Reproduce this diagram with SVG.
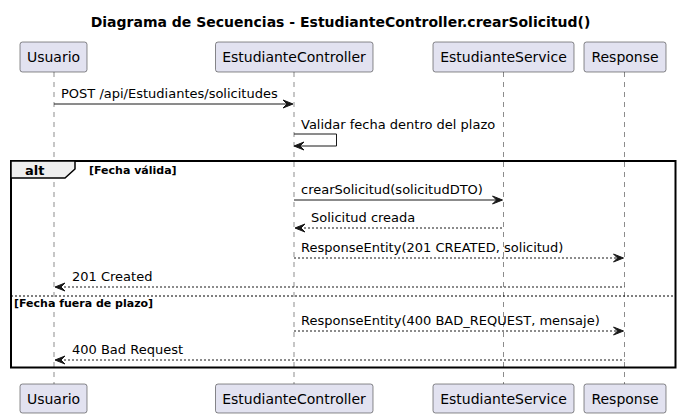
<svg xmlns="http://www.w3.org/2000/svg" width="681" height="419" viewBox="0 0 681 419">
<defs>
<style>
text{font-family:"DejaVu Sans",sans-serif;fill:#000000}
.title{font-size:14px;font-weight:bold}
.pbox{fill:#E2E2F0;stroke:#181818;stroke-width:0.5}
.ptext{font-size:14px}
.life{stroke:#181818;stroke-width:0.5;stroke-dasharray:5,5;fill:none}
.msg{stroke:#181818;stroke-width:1;fill:none}
.dot{stroke-dasharray:2,2}
.mtext{font-size:13px}
.frame{fill:none;stroke:#000000;stroke-width:2}
.tab{fill:#EEEEEE;stroke:#000000;stroke-width:1.5}
.alt{font-size:13px;font-weight:bold}
.guard{font-size:11px;font-weight:bold}
.sep{stroke:#000000;stroke-width:1;stroke-dasharray:2,2}
.head{fill:#181818;stroke:#181818;stroke-width:1}
</style>
</defs>
<text class="title" x="340.5" y="27" text-anchor="middle">Diagrama de Secuencias - EstudianteController.crearSolicitud()</text>

<g id="lifelines">
<line class="life" x1="54" y1="72" x2="54" y2="384"/>
<line class="life" x1="294" y1="72" x2="294" y2="384"/>
<line class="life" x1="503.5" y1="72" x2="503.5" y2="384"/>
<line class="life" x1="624.5" y1="72" x2="624.5" y2="384"/>
</g>

<g id="alt-frame">
<rect class="frame" x="11" y="161" width="664.5" height="206.5"/>
<path class="tab" d="M11,161 L75,161 L75,169 L65,178 L11,178 Z"/>
<text class="alt" x="25" y="175">alt</text>
<text class="guard" x="89" y="174">[Fecha válida]</text>
<line class="sep" x1="11" y1="296" x2="675.5" y2="296"/>
<text class="guard" x="14" y="307">[Fecha fuera de plazo]</text>
</g>

<g id="p-usuario">
<rect class="pbox" x="20" y="42" width="67" height="30" rx="2.5"/>
<text class="ptext" x="53.5" y="62" text-anchor="middle">Usuario</text>
<rect class="pbox" x="20" y="384" width="67" height="29" rx="2.5"/>
<text class="ptext" x="53.5" y="404" text-anchor="middle">Usuario</text>
</g>
<g id="p-controller">
<rect class="pbox" x="215.5" y="42" width="157.5" height="30" rx="2.5"/>
<text class="ptext" x="294" y="62" text-anchor="middle">EstudianteController</text>
<rect class="pbox" x="215.5" y="384" width="157.5" height="29" rx="2.5"/>
<text class="ptext" x="294" y="404" text-anchor="middle">EstudianteController</text>
</g>
<g id="p-service">
<rect class="pbox" x="433" y="42" width="141" height="30" rx="2.5"/>
<text class="ptext" x="503.5" y="62" text-anchor="middle">EstudianteService</text>
<rect class="pbox" x="433" y="384" width="141" height="29" rx="2.5"/>
<text class="ptext" x="503.5" y="404" text-anchor="middle">EstudianteService</text>
</g>
<g id="p-response">
<rect class="pbox" x="584" y="42" width="82" height="30" rx="2.5"/>
<text class="ptext" x="625" y="62" text-anchor="middle">Response</text>
<rect class="pbox" x="584" y="384" width="82" height="29" rx="2.5"/>
<text class="ptext" x="625" y="404" text-anchor="middle">Response</text>
</g>

<g id="connectors">
<line class="msg" x1="54" y1="104" x2="292" y2="104"/>
<polygon class="head" points="283,100 293,104 283,108 287,104"/>
<text class="mtext" x="61" y="98">POST /api/Estudiantes/solicitudes</text>

<polyline class="msg" points="294,134 336.5,134 336.5,146 295,146"/>
<polygon class="head" points="304,142 294,146 304,150 300,146"/>
<text class="mtext" x="301" y="129">Validar fecha dentro del plazo</text>

<line class="msg" x1="294" y1="200" x2="501.5" y2="200"/>
<polygon class="head" points="492.5,196 502.5,200 492.5,204 496.5,200"/>
<text class="mtext" x="301" y="194">crearSolicitud(solicitudDTO)</text>

<line class="msg dot" x1="296" y1="228" x2="503.5" y2="228"/>
<polygon class="head" points="305,224 295,228 305,232 301,228"/>
<text class="mtext" x="311" y="222">Solicitud creada</text>

<line class="msg dot" x1="294" y1="258" x2="622.5" y2="258"/>
<polygon class="head" points="613.5,254 623.5,258 613.5,262 617.5,258"/>
<text class="mtext" x="301" y="252">ResponseEntity(201 CREATED, solicitud)</text>

<line class="msg dot" x1="56" y1="287" x2="624.5" y2="287"/>
<polygon class="head" points="65,283 55,287 65,291 61,287"/>
<text class="mtext" x="72" y="281">201 Created</text>

<line class="msg dot" x1="294" y1="331" x2="622.5" y2="331"/>
<polygon class="head" points="613.5,327 623.5,331 613.5,335 617.5,331"/>
<text class="mtext" x="301" y="325">ResponseEntity(400 BAD_REQUEST, mensaje)</text>

<line class="msg dot" x1="56" y1="360" x2="624.5" y2="360"/>
<polygon class="head" points="65,356 55,360 65,364 61,360"/>
<text class="mtext" x="72" y="354">400 Bad Request</text>
</g>
</svg>
